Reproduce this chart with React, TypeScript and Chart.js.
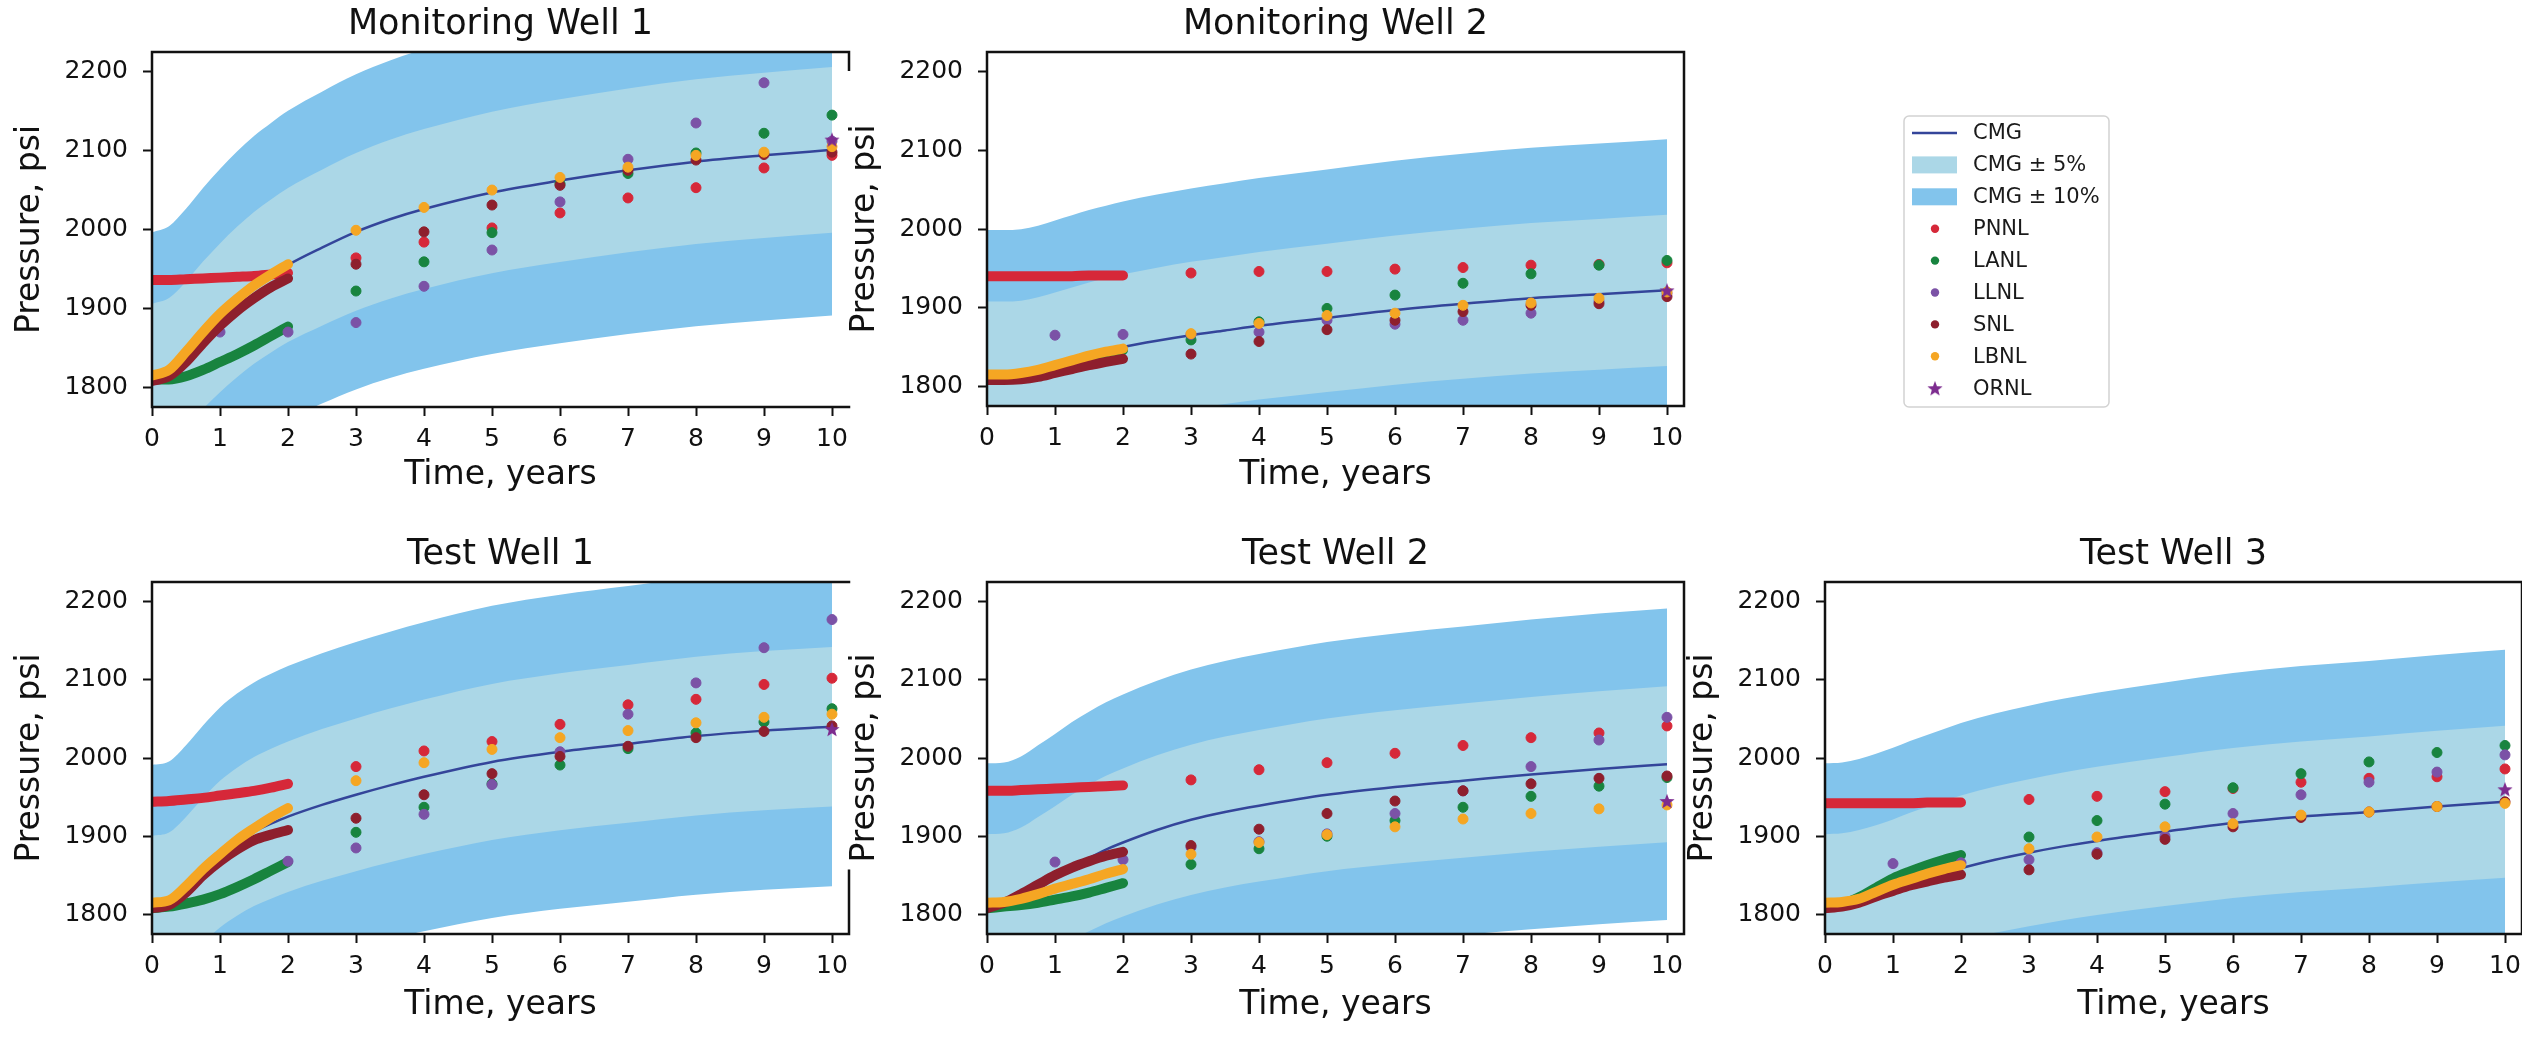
import React, { useEffect, useRef } from 'react';
import { Chart, registerables } from 'chart.js';

Chart.register(...registerables);

const FONT = '"DejaVu Sans", "Noto Sans", sans-serif';
Chart.defaults.font.family = FONT;
Chart.defaults.color = '#111';

// ---------------------------------------------------------------------------
// Data
// ---------------------------------------------------------------------------
const WELL_NAMES = ['Monitoring Well 1', 'Monitoring Well 2', 'Test Well 1', 'Test Well 2', 'Test Well 3'];

const X_TICKS = [0, 1, 2, 3, 4, 5, 6, 7, 8, 9, 10];
const Y_TICKS = [1800, 1900, 2000, 2100, 2200];

// CMG reference simulation (psi), one row per well
const CMG_T = [0, 0.25, 0.5, 0.75, 1, 1.25, 1.5, 1.75, 2, 2.5, 3, 3.5, 4, 5, 6, 7, 8, 9, 10];
const CMG = [
  [1815, 1822, 1842, 1866, 1888, 1908, 1926, 1941, 1955, 1977, 1997, 2013, 2026, 2047, 2062, 2075, 2086, 2094, 2101],
  [1817, 1817, 1818, 1822, 1828, 1834, 1840, 1845, 1850, 1858, 1865, 1871, 1877, 1887, 1897, 1905, 1912, 1917, 1922],
  [1810, 1814, 1833, 1856, 1877, 1893, 1906, 1916, 1925, 1940, 1953, 1965, 1976, 1995, 2008, 2018, 2028, 2035, 2040],
  [1812, 1813, 1820, 1833, 1846, 1860, 1872, 1883, 1892, 1908, 1921, 1931, 1939, 1953, 1963, 1971, 1979, 1986, 1992],
  [1812, 1813, 1817, 1823, 1830, 1838, 1845, 1852, 1859, 1870, 1879, 1887, 1894, 1906, 1917, 1925, 1931, 1938, 1944],
];
const BAND_5 = 0.05;
const BAND_10 = 0.1;

// Early-time (0-2 yr) traces
const EARLY_T = [0, 0.25, 0.5, 0.75, 1, 1.25, 1.5, 1.75, 2];
const PNNL_EARLY = [
  [1936, 1936, 1937, 1938, 1939, 1940, 1941, 1943, 1945],
  [1940, 1940, 1940, 1940, 1940, 1940, 1941, 1941, 1941],
  [1944, 1945, 1947, 1949, 1952, 1955, 1958, 1962, 1967],
  [1958, 1958, 1959, 1960, 1961, 1962, 1963, 1964, 1965],
  [1942, 1942, 1942, 1942, 1942, 1942, 1943, 1943, 1943],
];
const LANL_EARLY = [
  [1810, 1810, 1814, 1822, 1832, 1842, 1853, 1865, 1877],
  [1813, 1813, 1815, 1819, 1824, 1830, 1836, 1841, 1846],
  [1808, 1810, 1814, 1819, 1826, 1835, 1845, 1856, 1867],
  [1808, 1810, 1812, 1815, 1819, 1823, 1828, 1834, 1840],
  [1810, 1813, 1822, 1834, 1846, 1855, 1863, 1870, 1876],
];
const SNL_EARLY = [
  [1808, 1814, 1832, 1856, 1878, 1897, 1913, 1927, 1938],
  [1808, 1808, 1809, 1812, 1817, 1822, 1827, 1831, 1835],
  [1808, 1812, 1828, 1850, 1868, 1883, 1895, 1902, 1908],
  [1808, 1815, 1826, 1838, 1850, 1860, 1868, 1875, 1880],
  [1808, 1810, 1815, 1823, 1830, 1837, 1842, 1847, 1851],
];
const LBNL_EARLY = [
  [1815, 1822, 1845, 1870, 1893, 1912, 1929, 1943, 1956],
  [1815, 1815, 1817, 1821, 1827, 1833, 1839, 1844, 1848],
  [1815, 1818, 1836, 1858, 1877, 1895, 1910, 1924, 1936],
  [1815, 1816, 1820, 1826, 1833, 1839, 1845, 1852, 1858],
  [1815, 1816, 1820, 1829, 1838, 1845, 1852, 1858, 1863],
];

// Yearly results, years 3-10
const YEAR_T = [3, 4, 5, 6, 7, 8, 9, 10];
const PNNL_YEARLY = [
  [1964, 1984, 2002, 2021, 2040, 2053, 2078, 2094],
  [1944, 1946, 1946, 1949, 1951, 1954, 1955, 1957],
  [1989, 2009, 2021, 2043, 2068, 2075, 2094, 2102],
  [1972, 1985, 1994, 2006, 2016, 2026, 2032, 2041],
  [1947, 1951, 1957, 1961, 1969, 1974, 1976, 1986],
];
const LANL_YEARLY = [
  [1922, 1959, 1996, 2058, 2071, 2097, 2122, 2145],
  [1859, 1882, 1899, 1916, 1931, 1943, 1954, 1960],
  [1905, 1937, 1967, 1991, 2012, 2032, 2046, 2063],
  [1864, 1884, 1900, 1920, 1937, 1951, 1964, 1975],
  [1899, 1920, 1941, 1962, 1980, 1995, 2007, 2016],
];
const SNL_YEARLY = [
  [1956, 1997, 2031, 2056, 2075, 2088, 2095, 2098],
  [1841, 1857, 1872, 1884, 1895, 1903, 1905, 1914],
  [1923, 1953, 1980, 2002, 2015, 2026, 2034, 2041],
  [1888, 1909, 1929, 1945, 1958, 1967, 1974, 1977],
  [1857, 1877, 1896, 1912, 1924, 1931, 1938, 1944],
];
const LBNL_YEARLY = [
  [1999, 2028, 2050, 2066, 2079, 2094, 2098, 2105],
  [1867, 1880, 1890, 1893, 1903, 1906, 1912, 1920],
  [1971, 1994, 2011, 2026, 2035, 2045, 2052, 2056],
  [1877, 1892, 1902, 1912, 1922, 1929, 1935, 1940],
  [1884, 1899, 1912, 1916, 1927, 1931, 1938, 1942],
];

// LLNL reports yearly from year 1
const LLNL_T = [1, 2, 3, 4, 5, 6, 7, 8, 9, 10];
const LLNL_YEARLY = [
  [1870, 1870, 1882, 1928, 1974, 2035, 2089, 2135, 2186, 2112],
  [1865, 1866, 1866, 1869, 1884, 1879, 1884, 1893, 1908, 1918],
  [1872, 1868, 1885, 1928, 1966, 2008, 2056, 2096, 2141, 2177],
  [1867, 1870, 1886, 1893, 1903, 1929, 1958, 1989, 2023, 2052],
  [1865, 1866, 1870, 1879, 1900, 1929, 1953, 1969, 1982, 2004],
];

// ORNL reports the final year only
const ORNL_T = [10];
const ORNL_FINAL = [2114, 1922, 2037, 1945, 1960];

// ---------------------------------------------------------------------------
// Styles and layout
// ---------------------------------------------------------------------------
const C_CMG = '#34459a';
const C_BAND5 = '#abd7e7';
const C_BAND10 = '#82c4ec';
const C_PNNL = '#d62839';
const C_LANL = '#18843f';
const C_LLNL = '#7b52a6';
const C_SNL = '#8e1f2d';
const C_LBNL = '#f5a623';
const C_ORNL = '#7d2c8f';
const INK = '#111';

const PANEL_W = 880;
const PANEL_H = 508;
const AREA_LEFT = 152;
const AREA_W = 697;

const PANEL_POS = [
  { left: 0, top: 0, areaBottom: 407, rightSpine: [0, 0.05] },
  { left: 835, top: 0, areaBottom: 406, rightSpine: [0, 1] },
  { left: 0, top: 530, areaBottom: 404, rightSpine: [0.82, 1] },
  { left: 835, top: 530, areaBottom: 404, rightSpine: [0, 1] },
  { left: 1673, top: 530, areaBottom: 404, rightSpine: [0, 1] },
];

function starImage(color: string, r: number) {
  const s = Math.ceil(r * 2 + 2);
  const c = document.createElement('canvas');
  c.width = s;
  c.height = s;
  const g = c.getContext('2d')!;
  g.fillStyle = color;
  g.beginPath();
  for (let k = 0; k < 10; k++) {
    const rad = k % 2 === 0 ? r : r * 0.42;
    const a = -Math.PI / 2 + (k * Math.PI) / 5;
    const px = s / 2 + rad * Math.cos(a);
    const py = s / 2 + rad * Math.sin(a) + r * 0.1;
    if (k === 0) g.moveTo(px, py);
    else g.lineTo(px, py);
  }
  g.closePath();
  g.fill();
  return c;
}

// Axes frame: top, left, bottom, and a (possibly partial) right edge
const spines = {
  id: 'spines',
  afterDraw(chart: any, _args: any, opts: any) {
    const { ctx } = chart;
    const { left, top, right, bottom } = chart.chartArea;
    const [a, b] = opts.right || [0, 1];
    ctx.save();
    ctx.strokeStyle = INK;
    ctx.lineWidth = 2.5;
    ctx.lineCap = 'square';
    ctx.beginPath();
    ctx.moveTo(left, top);
    ctx.lineTo(right, top);
    ctx.moveTo(left, top);
    ctx.lineTo(left, bottom);
    ctx.moveTo(left, bottom);
    ctx.lineTo(right, bottom);
    if (b > a) {
      ctx.moveTo(right, top + a * (bottom - top));
      ctx.lineTo(right, top + b * (bottom - top));
    }
    ctx.stroke();
    ctx.restore();
  },
};

function panelConfig(w: number, star: HTMLCanvasElement) {
  const pos = PANEL_POS[w];
  const pts = (ts: number[], ys: number[]) => ts.map((t, i) => ({ x: t, y: ys[i] }));
  const cmg = CMG[w];
  const scaled = (f: number) => cmg.map((v) => v * f);
  const clear = 'rgba(0,0,0,0)';
  const curve = { pointRadius: 0, cubicInterpolationMode: 'monotone', fill: false };

  const labs = [
    { label: 'PNNL', color: C_PNNL, order: 6, early: PNNL_EARLY[w], t: YEAR_T, v: PNNL_YEARLY[w] },
    { label: 'LANL', color: C_LANL, order: 5, early: LANL_EARLY[w], t: YEAR_T, v: LANL_YEARLY[w] },
    { label: 'LLNL', color: C_LLNL, order: 4, early: null, t: LLNL_T, v: LLNL_YEARLY[w] },
    { label: 'SNL', color: C_SNL, order: 3, early: SNL_EARLY[w], t: YEAR_T, v: SNL_YEARLY[w] },
    { label: 'LBNL', color: C_LBNL, order: 2, early: LBNL_EARLY[w], t: YEAR_T, v: LBNL_YEARLY[w] },
  ];

  const datasets: any[] = [];
  labs.forEach((l) => {
    if (l.early) {
      datasets.push({
        ...curve,
        label: l.label,
        data: pts(EARLY_T, l.early),
        borderColor: l.color,
        borderWidth: 10,
        borderCapStyle: 'round',
        borderJoinStyle: 'round',
        order: l.order,
      });
    }
    datasets.push({
      label: l.label,
      data: pts(l.t, l.v),
      showLine: false,
      pointRadius: 5,
      pointBackgroundColor: l.color,
      pointBorderColor: l.color,
      pointBorderWidth: 1,
      order: l.order,
    });
  });
  datasets.push({
    label: 'ORNL',
    data: pts(ORNL_T, [ORNL_FINAL[w]]),
    showLine: false,
    pointStyle: star,
    pointRadius: 8,
    order: 1,
  });
  datasets.push({ ...curve, label: 'CMG', data: pts(CMG_T, cmg), borderColor: C_CMG, borderWidth: 2.5, order: 10 });
  datasets.push({
    ...curve,
    label: 'CMG ± 5%',
    data: pts(CMG_T, scaled(1 + BAND_5)),
    borderColor: clear,
    borderWidth: 0,
    backgroundColor: C_BAND5,
    fill: '+1',
    order: 20,
  });
  datasets.push({ ...curve, label: 'CMG - 5%', data: pts(CMG_T, scaled(1 - BAND_5)), borderColor: clear, borderWidth: 0, order: 21 });
  datasets.push({
    ...curve,
    label: 'CMG ± 10%',
    data: pts(CMG_T, scaled(1 + BAND_10)),
    borderColor: clear,
    borderWidth: 0,
    backgroundColor: C_BAND10,
    fill: '+1',
    order: 30,
  });
  datasets.push({ ...curve, label: 'CMG - 10%', data: pts(CMG_T, scaled(1 - BAND_10)), borderColor: clear, borderWidth: 0, order: 31 });

  const tickGrid = {
    display: true,
    drawOnChartArea: false,
    drawTicks: true,
    tickLength: 9,
    tickWidth: 2,
    tickColor: INK,
  };

  return {
    type: 'line',
    data: { datasets },
    options: {
      responsive: false,
      animation: false,
      events: [],
      layout: { padding: { left: 0, top: 0, bottom: 0, right: PANEL_W - AREA_LEFT - AREA_W } },
      plugins: {
        legend: { display: false },
        tooltip: { enabled: false },
        title: {
          display: true,
          text: WELL_NAMES[w],
          fullSize: false,
          color: INK,
          font: { size: 35, weight: 'normal', family: FONT },
          padding: { top: 4, bottom: 6 },
        },
        spines: { right: pos.rightSpine },
      },
      scales: {
        x: {
          type: 'linear',
          min: 0,
          max: 10.25,
          afterBuildTicks: (s: any) => {
            s.ticks = X_TICKS.map((v) => ({ value: v }));
          },
          afterFit: (s: any) => {
            s.height = PANEL_H - pos.areaBottom;
          },
          grid: tickGrid,
          border: { display: false },
          ticks: {
            color: INK,
            font: { size: 25 },
            padding: 8,
            maxRotation: 0,
            autoSkip: false,
            callback: (v: any) => String(v),
          },
          title: {
            display: true,
            text: 'Time, years',
            color: INK,
            font: { size: 33 },
            padding: { top: 0, bottom: 13 },
          },
        },
        y: {
          type: 'linear',
          min: 1775,
          max: 2225,
          afterBuildTicks: (s: any) => {
            s.ticks = Y_TICKS.map((v) => ({ value: v }));
          },
          afterFit: (s: any) => {
            s.width = AREA_LEFT;
          },
          grid: tickGrid,
          border: { display: false },
          ticks: {
            color: INK,
            font: { size: 25 },
            padding: 15,
            callback: (v: any) => String(v),
          },
          title: {
            display: true,
            text: 'Pressure, psi',
            color: INK,
            font: { size: 33 },
            padding: { top: 11, bottom: 0 },
          },
        },
      },
    },
    plugins: [spines],
  };
}

// Legend box drawn on its own chart canvas
const LEGEND_ITEMS = [
  { label: 'CMG', color: C_CMG, kind: 'line' },
  { label: 'CMG ± 5%', color: C_BAND5, kind: 'patch' },
  { label: 'CMG ± 10%', color: C_BAND10, kind: 'patch' },
  { label: 'PNNL', color: C_PNNL, kind: 'dot' },
  { label: 'LANL', color: C_LANL, kind: 'dot' },
  { label: 'LLNL', color: C_LLNL, kind: 'dot' },
  { label: 'SNL', color: C_SNL, kind: 'dot' },
  { label: 'LBNL', color: C_LBNL, kind: 'dot' },
  { label: 'ORNL', color: C_ORNL, kind: 'star' },
];

const legendBox = {
  id: 'legendBox',
  afterDraw(chart: any, _args: any, opts: any) {
    const { ctx } = chart;
    const fx = 24, fy = 16, fw = 205, fh = 291, r = 5;
    ctx.save();
    ctx.beginPath();
    ctx.moveTo(fx + r, fy);
    ctx.arcTo(fx + fw, fy, fx + fw, fy + fh, r);
    ctx.arcTo(fx + fw, fy + fh, fx, fy + fh, r);
    ctx.arcTo(fx, fy + fh, fx, fy, r);
    ctx.arcTo(fx, fy, fx + fw, fy, r);
    ctx.closePath();
    ctx.fillStyle = '#fff';
    ctx.fill();
    ctx.strokeStyle = '#d2d2d2';
    ctx.lineWidth = 1.5;
    ctx.stroke();

    chart.data.datasets.forEach((ds: any, i: number) => {
      const cy = 33 + i * 31.9;
      if (ds.legendKind === 'line') {
        ctx.strokeStyle = ds.borderColor;
        ctx.lineWidth = 2.5;
        ctx.beginPath();
        ctx.moveTo(32, cy);
        ctx.lineTo(77, cy);
        ctx.stroke();
      } else if (ds.legendKind === 'patch') {
        ctx.fillStyle = ds.backgroundColor;
        ctx.fillRect(32, cy - 8.5, 45, 17);
      } else if (ds.legendKind === 'dot') {
        ctx.fillStyle = ds.backgroundColor;
        ctx.beginPath();
        ctx.arc(55, cy, 4.2, 0, Math.PI * 2);
        ctx.fill();
      } else if (ds.legendKind === 'star') {
        const img = opts.star;
        ctx.drawImage(img, 55 - img.width / 2, cy - img.height / 2);
      }
      ctx.fillStyle = '#1a1a1a';
      ctx.font = `21px ${FONT}`;
      ctx.textBaseline = 'middle';
      ctx.textAlign = 'left';
      ctx.fillText(ds.label, 93, cy + 1);
    });
    ctx.restore();
  },
};

function Panel({ index }: { index: number }) {
  const ref = useRef<HTMLCanvasElement>(null);
  useEffect(() => {
    const star = starImage(C_ORNL, 8);
    const chart = new Chart(ref.current as HTMLCanvasElement, panelConfig(index, star) as any);
    return () => chart.destroy();
  }, [index]);
  const pos = PANEL_POS[index];
  return (
    <canvas
      ref={ref}
      width={PANEL_W}
      height={PANEL_H}
      style={{ position: 'absolute', left: pos.left, top: pos.top, width: PANEL_W, height: PANEL_H }}
    />
  );
}

function Legend() {
  const ref = useRef<HTMLCanvasElement>(null);
  useEffect(() => {
    const star = starImage(C_ORNL, 8);
    const chart = new Chart(ref.current as HTMLCanvasElement, {
      type: 'line',
      data: {
        datasets: LEGEND_ITEMS.map((it) => ({
          label: it.label,
          data: [],
          borderColor: it.color,
          backgroundColor: it.color,
          legendKind: it.kind,
        })),
      },
      options: {
        responsive: false,
        animation: false,
        events: [],
        plugins: { legend: { display: false }, tooltip: { enabled: false }, legendBox: { star } },
        scales: { x: { display: false }, y: { display: false } },
      },
      plugins: [legendBox],
    } as any);
    return () => chart.destroy();
  }, []);
  return (
    <canvas
      ref={ref}
      width={260}
      height={330}
      style={{ position: 'absolute', left: 1880, top: 100, width: 260, height: 330 }}
    />
  );
}

export default function App() {
  return (
    <div
      style={{
        position: 'fixed',
        left: 0,
        top: 0,
        width: 2522,
        height: 1038,
        overflow: 'hidden',
        background: '#fff',
      }}
    >
      {WELL_NAMES.map((_, i) => (
        <Panel key={i} index={i} />
      ))}
      <Legend />
    </div>
  );
}
